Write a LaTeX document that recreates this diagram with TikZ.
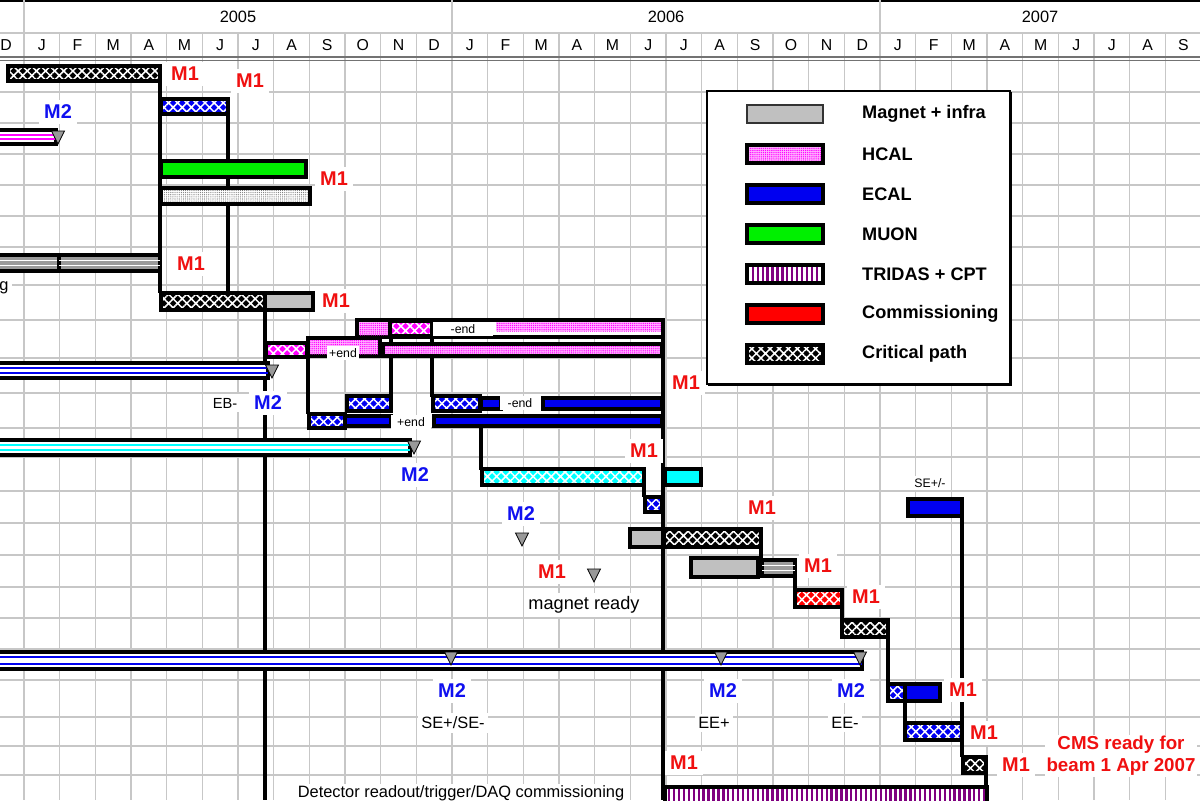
\documentclass[tikz,border=0pt]{standalone}
\usepackage{fontspec}
\setmainfont{Liberation Sans}
\usetikzlibrary{patterns.meta}
\definecolor{InfraGray}{HTML}{C0C0C0}
\definecolor{HcalPink}{HTML}{FF00FF}
\definecolor{EcalBlue}{HTML}{0000F0}
\definecolor{MuonGreen}{HTML}{00F000}
\definecolor{TridasPurple}{HTML}{800080}
\definecolor{CommRed}{HTML}{FF0000}
\definecolor{PathCyan}{HTML}{00FFFF}
\definecolor{MileRed}{HTML}{F01010}
\definecolor{MileBlue}{HTML}{1010F0}

\tikzset{
  gridline/.style={black!22, line width=1.1pt},
  link/.style={line width=2.7pt},
  bar/.style={draw=black, line width=2.6pt},
  solidbar/.style={bar, fill=#1},
  critbar/.style={bar, preaction={fill=#1},
    pattern={Hatch[angle=45, distance=5.5pt, line width=1.3pt]}, pattern color=white},
  critbar/.default=black,
  dotfill/.style={preaction={fill=#1!30}, pattern={Dots[distance=1.8pt, radius=0.6pt]}, pattern color=#1},
  dotbar/.style={bar, dotfill=#1},
  tridasbar/.style={bar, preaction={fill=white},
    pattern={Lines[angle=90, distance=4.2pt, line width=2pt]}, pattern color=TridasPurple},
  mone/.style={fill=white, text=MileRed, font=\fontsize{17}{17}\selectfont\bfseries, inner sep=4pt},
  mtwo/.style={fill=white, text=MileBlue, font=\fontsize{17}{17}\selectfont\bfseries, inner sep=4pt},
  smalltxt/.style={fill=white, font=\fontsize{10.5}{10.5}\selectfont, inner sep=2pt},
  plaintxt/.style={fill=white, font=\fontsize{14}{14}\selectfont, inner sep=3pt},
  legtxt/.style={anchor=west, font=\fontsize{15.5}{15.5}\selectfont\bfseries, inner sep=0pt},
  milestone/.pic={\filldraw[fill=gray!80, draw=black, line width=0.7pt] (-6.5,-6) -- (6.5,-6) -- (0,7) -- cycle;}
}

% bar of an M2 path: white with two coloured stripes
\newcommand{\mtwobar}[5]{%
  \draw[bar, fill=white] (#1,#2) rectangle (#3,#4);
  \draw[#5, line width=1.9pt] (#1,#2+4.8) -- (#3,#2+4.8) (#1,#4-5.2) -- (#3,#4-5.2);}
% grey bar with two white stripes
\newcommand{\infrastripe}[4]{%
  \draw[solidbar=InfraGray!80!black] (#1,#2) rectangle (#3,#4);
  \draw[white, line width=1.4pt] (#1,#2+5.5) -- (#3,#2+5.5) (#1,#4-5.5) -- (#3,#4-5.5);}

\begin{document}
\begin{tikzpicture}[x=0.03cm, y=-0.03cm]
  \useasboundingbox[fill=white] (0,0) rectangle (1200,800);

  % --- Calendar header ---
  % Years on the top row, months below, one column per month.
  \draw[line width=1.6pt] (0,0.8) -- (1200,0.8);
  \foreach \xx in {24,452,880}
    \draw[gridline] (\xx,0) -- (\xx,33);
  \draw[gridline] (0,33) -- (1200,33);
  \node[font=\fontsize{14}{14}\selectfont] (y2005) at (238,17) {2005};
  \node[font=\fontsize{14}{14}\selectfont] (y2006) at (666,17) {2006};
  \node[font=\fontsize{14}{14}\selectfont] (y2007) at (1040,17) {2007};
  \foreach \m [count=\k from 0] in {D,J,F,M,A,M,J,J,A,S,O,N,D,J,F,M,A,M,J,J,A,S,O,N,D,J,F,M,A,M,J,J,A,S}
    \node[font=\fontsize{13.5}{13.5}\selectfont] (mon\k) at ({24+35.67*(\k-0.5)},45) {\m};

  % --- Grid ---
  \foreach \k in {0,...,32}
    \draw[gridline] ({24+35.67*\k},33) -- ({24+35.67*\k},800);
  \foreach \yy in {92,123,154,185,216,247,285,320,358,393,428,457,491,523,555,587,618,649,680,717,746,775}
    \draw[gridline] (0,\yy) -- (1200,\yy);
  \draw[black!55, line width=1pt] (0,57) -- (1200,57) (0,60.5) -- (1200,60.5);

  % --- Dependency lines ---
  % Drawn first so that bars and labels sit on top of them.
  \draw[link] (160,81) -- (160,293);
  \draw[link] (228,114) -- (228,293);
  \draw[link] (265,310) -- (265,800);
  \draw[link] (308,356) -- (308,414);
  \draw[link] (391,337) -- (391,397);
  \draw[link] (432,337) -- (432,397);
  \draw[link] (663,320) -- (663,800);
  \draw[link] (481,426) -- (481,470);
  \draw[link] (644,485) -- (644,497);
  \draw[link] (761,547) -- (761,560);
  \draw[link] (795,577) -- (795,590);
  \draw[link] (842,607) -- (842,620);
  \draw[link] (888,637) -- (888,684);
  \draw[link] (905,701) -- (905,723);
  \draw[link] (962,516) -- (962,757);
  \draw[link] (986,773) -- (986,787);

  % --- Magnet, muon and infrastructure ---
  \draw[critbar] (8,66) rectangle (160,81);
  \draw[critbar=EcalBlue] (161,99) rectangle (228,114);
  \mtwobar{-5}{130}{56}{144}{HcalPink}
  \draw[solidbar=MuonGreen] (161,161) rectangle (306,177);
  \draw[bar, preaction={fill=white}, pattern={Dots[distance=1.8pt, radius=0.5pt]}, pattern color=black!55] (161,188) rectangle (310,204);
  \infrastripe{-5}{255}{59}{271}
  \infrastripe{59}{255}{160}{271}
  \draw[critbar] (161,293) rectangle (265,310);
  \draw[solidbar=InfraGray] (265,293) rectangle (313,310);

  % --- HCAL ---
  \draw[bar, fill=white] (357,320) rectangle (663,337);
  \fill[dotfill=HcalPink] (359,322) rectangle (389,335);
  \fill[dotfill=HcalPink] (496,322) rectangle (661,331);
  \draw[critbar=HcalPink] (390,321) rectangle (432,336);
  \draw[critbar=HcalPink] (266,343) rectangle (307,357);
  \draw[bar, fill=white] (308,338) rectangle (380,356);
  \fill[dotfill=HcalPink] (310,340) rectangle (378,354);
  \draw[dotbar=HcalPink] (383,344) rectangle (662,356);

  % --- ECAL ---
  \mtwobar{-5}{363}{268}{378}{EcalBlue}
  \draw[critbar=EcalBlue] (347,396) rectangle (391,411);
  \draw[critbar=EcalBlue] (433,396) rectangle (480,411);
  \draw[solidbar=EcalBlue] (481,398) rectangle (501,409);
  \draw[solidbar=EcalBlue] (543,398) rectangle (662,409);
  \draw[critbar=EcalBlue] (309,414) rectangle (345,428);
  \draw[solidbar=EcalBlue] (345,416) rectangle (391,426);
  \draw[solidbar=EcalBlue] (434,416) rectangle (662,426);

  % --- Pixel / tracker path ---
  \mtwobar{-5}{440}{410}{455}{PathCyan}
  \draw[critbar=PathCyan] (482,469) rectangle (644,485);
  \draw[solidbar=PathCyan] (665,469) rectangle (701,485);
  \draw[critbar=EcalBlue] (645,497) rectangle (662,512);

  % --- Lowering and closing ---
  \draw[solidbar=InfraGray] (630,529) rectangle (663,547);
  \draw[critbar] (664,529) rectangle (761,547);
  \draw[solidbar=InfraGray] (691,558) rectangle (758,577);
  \infrastripe{762}{560}{795}{576}
  \draw[critbar=CommRed] (795,590) rectangle (842,607);
  \draw[critbar] (842,620) rectangle (888,637);

  % --- Endcaps and final steps ---
  \mtwobar{-5}{652}{862}{669}{EcalBlue}
  \draw[solidbar=EcalBlue] (908,499) rectangle (962,516);
  \draw[critbar=EcalBlue] (888,684) rectangle (905,701);
  \draw[solidbar=EcalBlue] (905,684) rectangle (940,701);
  \draw[critbar=EcalBlue] (905,723) rectangle (962,740);
  \draw[critbar] (963,757) rectangle (986,773);
  \draw[tridasbar] (665,787) rectangle (987,806);

  % --- Milestone triangles ---
  \pic (tHcal) at (58,137) {milestone};
  \pic (tEb) at (272,371) {milestone};
  \pic (tPix) at (414,447) {milestone};
  \pic (tFree) at (522,539) {milestone};
  \pic (tMag) at (594,575) {milestone};
  \pic (tSe) at (451,658) {milestone};
  \pic (tEep) at (721,658) {milestone};
  \pic (tEem) at (860,658) {milestone};

  % --- Milestone labels ---
  \node[mone] (mCritA) at (185,74) {M1};
  \node[mone] (mCritB) at (250,81) {M1};
  \node[mtwo] (mHcal) at (58,112) {M2};
  \node[mone] (mMuon) at (334,179) {M1};
  \node[mone] (mInfra) at (191,264) {M1};
  \node[mone] (mYoke) at (336,301) {M1};
  \node[mone] (mEcal) at (686,383) {M1};
  \node[mtwo] (mEb) at (268,403) {M2};
  \node[mtwo] (mPix) at (415,475) {M2};
  \node[mone] (mPixB) at (644,451) {M1};
  \node[mtwo] (mFree) at (521,514) {M2};
  \node[mone] (mMag) at (552,572) {M1};
  \node[mone] (mLower) at (762,508) {M1};
  \node[mone] (mClose) at (818,566) {M1};
  \node[mone] (mComm) at (866,597) {M1};
  \node[mtwo] (mSe) at (452,691) {M2};
  \node[mtwo] (mEep) at (723,691) {M2};
  \node[mtwo] (mEem) at (851,691) {M2};
  \node[mone] (mSeB) at (963,690) {M1};
  \node[mone] (mEeB) at (984,733) {M1};
  \node[mone] (mLast) at (1016,765) {M1};
  \node[mone] (mTridas) at (684,763) {M1};

  % --- Small notes ---
  \node[smalltxt, minimum width=52pt, minimum height=12pt] (hEndM) at (463,329) {-end};
  \node[smalltxt] (hEndP) at (343,353) {+end};
  \node[smalltxt, minimum width=34pt] (eEndM) at (520,403) {-end};
  \node[smalltxt, minimum width=34pt] (eEndP) at (411,422) {+end};
  \node[smalltxt] (seNote) at (930,483) {SE+/-};
  \node[plaintxt, font=\fontsize{12.5}{12.5}\selectfont] (ebNote) at (225,403) {EB-};
  \node[plaintxt] (gNote) at (4,288) {g};
  \node[plaintxt, font=\fontsize{15.5}{15.5}\selectfont] (magNote) at (584,605) {magnet ready};
  \node[plaintxt] (seAll) at (453,723) {SE+/SE-};
  \node[plaintxt] (eePlus) at (714,723) {EE+};
  \node[plaintxt] (eeMinus) at (845,723) {EE-};
  \node[plaintxt, inner sep=1pt] (daqNote) at (461,793) {Detector readout/trigger/DAQ commissioning};
  \node[fill=white, text=MileRed, font=\fontsize{16}{19}\selectfont\bfseries, align=center, inner sep=1pt] (beamNote) at (1121,756) {CMS ready for\\beam 1 Apr 2007};

  % --- Legend ---
  \draw[line width=1.2pt, fill=white] (707,91) rectangle (1010,384);
  \draw[line width=2.2pt] (708,385) -- (1011,385) -- (1011,92);
  \draw[fill=InfraGray, draw=black!80, line width=1pt] (747,105) rectangle (823,123);
  \draw[dotbar=HcalPink] (747,145) rectangle (823,163);
  \draw[solidbar=EcalBlue] (747,185) rectangle (823,203);
  \draw[solidbar=MuonGreen] (747,225) rectangle (823,243);
  \draw[tridasbar] (747,265) rectangle (823,283);
  \draw[solidbar=CommRed] (747,305) rectangle (823,323);
  \draw[critbar] (747,345) rectangle (823,363);
  \node[legtxt] (legMagnet) at (862,114) {Magnet + infra};
  \node[legtxt] (legHcal) at (862,154) {HCAL};
  \node[legtxt] (legEcal) at (862,194) {ECAL};
  \node[legtxt] (legMuon) at (862,234) {MUON};
  \node[legtxt] (legTridas) at (862,274) {TRIDAS + CPT};
  \node[legtxt] (legComm) at (862,314) {Commissioning};
  \node[legtxt] (legCrit) at (862,354) {Critical path};
\end{tikzpicture}
\end{document}
